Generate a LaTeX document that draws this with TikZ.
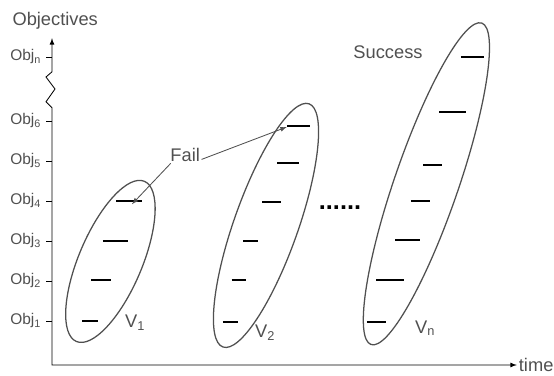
\documentclass[tikz,border=0pt]{standalone}
\usepackage{fontspec}
\setmainfont{Liberation Sans}
\usetikzlibrary{shapes.geometric}
\definecolor{ink}{HTML}{505050}

\begin{document}
\begin{tikzpicture}[
    >=latex,
    txt/.style={text=ink,font=\fontsize{13}{15}\selectfont,inner sep=1pt},
    objlabel/.style={text=ink,font=\fontsize{11}{13}\selectfont,anchor=east,inner sep=1pt},
    set/.style={draw=ink,line width=0.9pt,ellipse,inner sep=0pt},
    level/.style={line width=1.1pt},
    failarrow/.style={->,draw=ink,line width=0.6pt}
]
\useasboundingbox (0,0) rectangle (13.85,9.375);

% Axes with break
\draw[<->,line width=0.6pt] (1.3,8.42) -- (1.3,7.58) -- (1.15,7.45) -- (1.375,7.15)
    -- (1.15,6.83) -- (1.3,6.68) -- (1.3,0.25) -- (12.92,0.25);
\node[txt,anchor=south] (objectives) at (1.38,8.6) {Objectives};
\node[txt,anchor=west] (time) at (12.93,0.25) {time};

% Ticks
\foreach \y/\k in {1.35/1,2.35/2,3.35/3,4.35/4,5.35/5,6.35/6,7.95/n}
{
    \draw[line width=0.6pt] (1.15,\y) -- (1.3,\y);
    \node[objlabel] (obj\k) at (1.07,\y) {Obj\textsubscript{\k}};
}

% Versions
\node[set,minimum width=4.35cm,minimum height=1.58cm,rotate=67] (V1) at (2.76,2.84) {};
\node[set,minimum width=6.45cm,minimum height=1.6cm,rotate=70.5] (V2) at (6.65,3.74) {};
\node[set,minimum width=8.5cm,minimum height=1.6cm,rotate=71] (Vn) at (10.66,4.78) {};

% Objective levels inside each version
\foreach \xa/\xb/\y in {2.06/2.46/1.35,2.28/2.78/2.37,2.57/3.21/3.35,2.9/3.55/4.35}
    \draw[level] (\xa,\y) -- (\xb,\y);
\foreach \xa/\xb/\y in {5.57/5.96/1.33,5.79/6.14/2.38,6.08/6.45/3.35,6.55/7.02/4.33,6.93/7.48/5.3,7.18/7.75/6.23}
    \draw[level] (\xa,\y) -- (\xb,\y);
\foreach \xa/\xb/\y in {9.17/9.65/1.33,9.4/10.1/2.375,9.88/10.5/3.375,10.27/10.75/4.35,10.58/11.04/5.25,10.98/11.65/6.58,11.52/12.1/7.95}
    \draw[level] (\xa,\y) -- (\xb,\y);

% Version labels
\node[txt] (v1label) at (3.38,1.3) {V\textsubscript{1}};
\node[txt] (v2label) at (6.63,1.05) {V\textsubscript{2}};
\node[txt] (vnlabel) at (10.63,1.17) {V\textsubscript{n}};

% Dots between versions
\node[font=\fontsize{18}{20}\selectfont\bfseries] (dots) at (8.5,4.18) {......};

% Fail / Success
\node[txt] (fail) at (4.63,5.5) {Fail};
\node[txt] (success) at (9.7,8.07) {Success};
\coordinate (f1) at (3.3,4.27);
\coordinate (f2) at (7.17,6.2);
\draw[failarrow] (fail.-150) -- (f1);
\draw[failarrow] (fail.-15) -- (f2);

\end{tikzpicture}
\end{document}
